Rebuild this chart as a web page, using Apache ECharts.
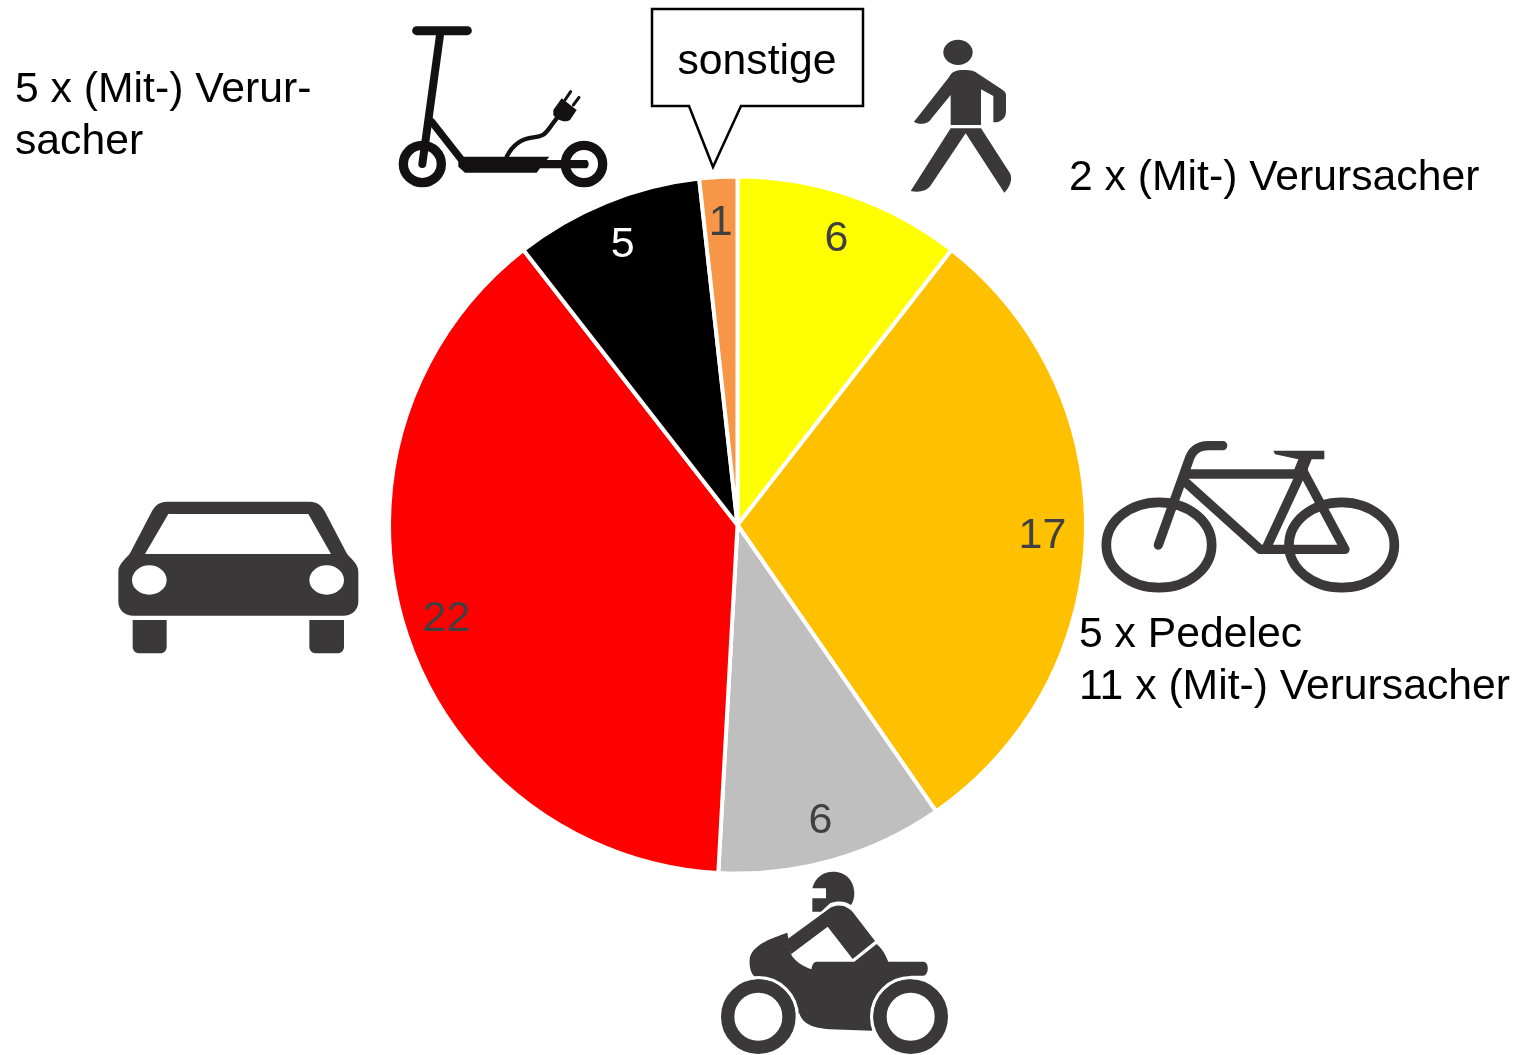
<!DOCTYPE html>
<html>
<head>
<meta charset="utf-8">
<title>Verursacher</title>
<script src="https://cdn.jsdelivr.net/npm/echarts@6/dist/echarts.min.js"></script>
<style>
  html, body { margin: 0; padding: 0; background: #fff; }
  #chart { width: 1515px; height: 1055px; }
</style>
</head>
<body>
<div id="chart"></div>
<script>
const categories = ['Fußgänger', 'Fahrrad', 'Motorrad', 'Pkw', 'E-Scooter', 'sonstige']
const values = [6, 17, 6, 22, 5, 1]
const calloutText = 'sonstige'
const scooterNote = '5 x (Mit-) Verur-\nsacher'
const walkerNote = '2 x (Mit-) Verursacher'
const bikeNote = '5 x Pedelec\n11 x (Mit-) Verursacher'

const sliceColors = ['#ffff00', '#ffc000', '#bfbfbf', '#ff0000', '#000000', '#f79646']
const labelColors = ['#404040', '#404040', '#404040', '#404040', '#ffffff', '#404040']
const DARK = '#3a3839'
const BLACK = '#141113'
const FONT = '"Liberation Sans", Arial, sans-serif'

const chart = echarts.init(document.getElementById('chart'))

// graphic has no plain 'path' type, so every pictogram path gets its own registered shape
// all paths are traced in 3x crop coordinates, hence the 1/3 scale
let shapeCount = 0
function icon(d, ox, oy, style, z) {
  const name = 'iconShape' + shapeCount++
  echarts.graphic.registerShape(name, echarts.graphic.extendPath(d, {}))
  return {
    type: name,
    x: ox,
    y: oy,
    scaleX: 1 / 3,
    scaleY: 1 / 3,
    z: z || 10,
    style: style
  }
}
const fill = c => ({ fill: c, stroke: null })
const line = (c, w) => ({ fill: null, stroke: c, lineWidth: w, lineCap: 'round', lineJoin: 'round' })
const ell = (cx, cy, rx, ry) =>
  `M${cx - rx} ${cy} A${rx} ${ry} 0 1 1 ${cx + rx} ${cy} A${rx} ${ry} 0 1 1 ${cx - rx} ${cy} Z`

function note(text, x, y) {
  return {
    type: 'text', x: x, y: y, z: 20,
    style: { text: text, fill: '#000', font: '42.7px ' + FONT, lineHeight: 52, verticalAlign: 'middle' }
  }
}

const scooter = [
  icon('M80 32 L232 32', 390, 20, line(BLACK, 27)),
  icon('M150 45 L97 432', 390, 20, line(BLACK, 24)),
  icon('M125 305 L215 420', 390, 20, line(BLACK, 22)),
  icon('M205 410 L478 410 L470 420 L590 420 C598 425 598 440 590 445 L450 445 L440 458 L225 458 L205 440 Z', 390, 20, fill(BLACK)),
  icon(ell(97, 432, 57, 56), 390, 20, line(BLACK, 28)),
  icon(ell(582, 432, 56, 56), 390, 20, line(BLACK, 28)),
  icon('M350 410 C370 370 400 355 430 352 C465 350 470 335 485 315 L500 295', 390, 20, line(BLACK, 13)),
  icon('M490 270 L515 235 L560 270 L540 300 C525 310 500 300 490 285 Z', 390, 20, fill(BLACK)),
  icon('M525 240 L542 215 M550 255 L567 232', 390, 20, line(BLACK, 9))
]

const walker = [
  icon(ell(174, 67, 44, 38), 900, 30, fill(DARK)),
  icon('M190 120 C170 120 155 125 148 140 L42 275 C55 285 85 285 95 265 L152 195 L152 285 L243 285 L243 178 L280 198 L280 277 C300 278 318 265 318 245 L318 195 C318 188 312 183 305 178 L225 125 C215 120 200 120 190 120 Z', 900, 30, fill(DARK)),
  icon('M152 295 L243 295 L330 430 C338 445 332 470 313 488 L197 310 L93 465 C80 485 55 488 32 483 Z', 900, 30, fill(DARK))
]

const bike = [
  icon(ell(207, 345, 158, 128), 1090, 430, line(DARK, 29)),
  icon(ell(755, 345, 158, 128), 1090, 430, line(DARK, 29)),
  icon('M205 345 L295 95 C305 60 325 47 355 47 L398 47', 1090, 430, line(DARK, 28)),
  icon('M295 132 L630 132', 1090, 430, line(DARK, 28)),
  icon('M285 155 L510 358 L765 358 L640 125', 1090, 430, line(DARK, 28)),
  icon('M530 352 L640 115', 1090, 430, line(DARK, 28)),
  icon('M550 62 L703 62 L703 88 L665 88 L650 125 L610 125 L625 88 L555 73 Z', 1090, 430, fill(DARK))
]

const wheel = { fill: '#fff', stroke: DARK, lineWidth: 40 }
const motorbike = [
  icon('M337 85 C345 52 370 35 400 35 C440 35 463 65 463 100 C463 115 459 127 453 135 C435 122 410 122 390 130 L363 155 L337 155 L337 115 L378 115 L378 85 Z', 700, 860, fill(DARK)),
  icon('M262 238 L385 148 C410 128 445 135 465 165 L525 243 L458 297 L383 200 L273 283 Z', 700, 860, fill(DARK)),
  icon('M262 218 C215 235 165 250 150 290 C145 320 155 345 165 350 L175 400 L270 470 L298 460 C305 485 330 505 390 508 L515 512 L560 480 L632 380 L632 347 L670 347 C688 345 688 305 670 305 L565 305 C555 280 545 265 530 252 L463 305 L350 305 C340 305 335 318 335 328 C310 320 285 305 273 283 Z', 700, 860, fill(DARK)),
  // white rings keep the thin gap between body and wheels
  icon(ell(175, 470, 117, 117), 700, 860, line('#fff', 10), 11),
  icon(ell(632, 470, 117, 117), 700, 860, line('#fff', 10), 11),
  icon(ell(175, 470, 92, 92), 700, 860, wheel, 12),
  icon(ell(632, 470, 92, 92), 700, 860, wheel, 12)
]

const car = [
  icon('M185 35 L615 35 C635 35 650 45 660 65 L725 190 C735 205 760 220 760 245 L760 335 C760 360 740 377 715 377 L85 377 C60 377 40 360 40 335 L40 245 C40 220 65 205 75 190 L140 65 C150 45 165 35 185 35 Z', 105, 490, fill(DARK)),
  icon('M190 72 L610 72 L678 192 L120 192 Z', 105, 490, fill('#fff'), 11),
  icon(ell(133, 270, 52, 44) + ' ' + ell(665, 270, 52, 44), 105, 490, fill('#fff'), 11),
  icon('M83 390 L185 390 L185 470 C185 483 175 490 165 490 L105 490 C93 490 83 483 83 470 Z', 105, 490, fill(DARK)),
  icon('M613 390 L717 390 L717 470 C717 483 707 490 695 490 L635 490 C623 490 613 483 613 470 Z', 105, 490, fill(DARK))
]

const callout = [
  {
    type: 'polygon',
    z: 10,
    shape: { points: [[652, 9], [863, 9], [863, 106], [741, 106], [713, 167], [689, 106], [652, 106]] },
    style: { fill: '#fff', stroke: '#000', lineWidth: 2.5 }
  },
  {
    type: 'text', x: 757, y: 62, z: 20,
    style: { text: calloutText, fill: '#000', font: '42.7px ' + FONT, align: 'center', verticalAlign: 'middle' }
  }
]

const pieData = categories.map((name, i) => ({
  name: name,
  value: values[i],
  itemStyle: { color: sliceColors[i] }
}))

// transparent ring only to set the label radius (labels sit near the rim in the original)
const labelData = categories.map((name, i) => ({
  name: name,
  value: values[i],
  label: { color: labelColors[i] }
}))

chart.setOption({
  backgroundColor: '#fff',
  animation: false,
  series: [
    {
      type: 'pie',
      center: [737.5, 525],
      radius: [0, 348.5],
      startAngle: 90,
      clockwise: true,
      silent: true,
      label: { show: false },
      labelLine: { show: false },
      itemStyle: { borderColor: '#fff', borderWidth: 4 },
      data: pieData
    },
    {
      type: 'pie',
      center: [737.5, 525],
      radius: [260, 344],
      startAngle: 90,
      clockwise: true,
      silent: true,
      itemStyle: { color: 'transparent' },
      label: {
        show: true,
        position: 'inside',
        formatter: '{c}',
        fontFamily: FONT,
        fontSize: 43,
        offset: [0, 3]
      },
      labelLine: { show: false },
      data: labelData
    }
  ],
  graphic: {
    elements: [
      ...scooter,
      ...walker,
      ...bike,
      ...motorbike,
      ...car,
      ...callout,
      note(scooterNote, 15, 116),
      note(walkerNote, 1069, 178),
      note(bikeNote, 1079, 661)
    ]
  }
})
</script>
</body>
</html>
